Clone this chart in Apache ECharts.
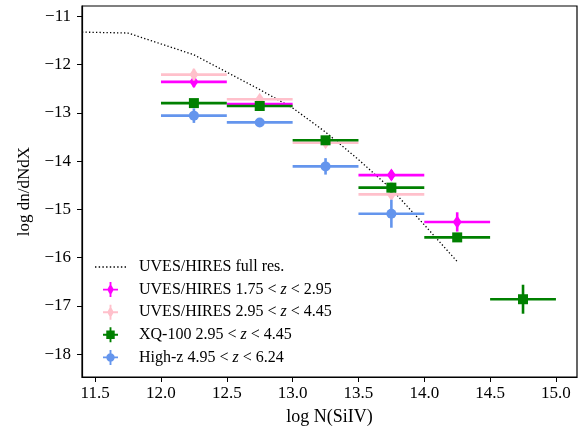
<!DOCTYPE html>
<html>
<head>
<meta charset="utf-8">
<script src="https://cdn.jsdelivr.net/npm/echarts@6/dist/echarts.min.js"></script>
<style>
  html, body { margin: 0; padding: 0; background: #fff; }
  #chart { width: 584px; height: 429px; }
</style>
</head>
<body>
<div id="chart"></div>
<script>
  // dotted curve: UVES/HIRES full resolution
  var fullResX = [11.4, 11.75, 12.25, 12.75, 13.0, 13.25, 13.5, 13.75, 14.0, 14.25];
  var fullResY = [-11.33, -11.35, -11.80, -12.52, -12.90, -13.40, -13.97, -14.58, -15.32, -16.08];

  // bin half width on log N axis
  var binHalf = 0.25;

  var uvesLowX = [12.25, 12.75, 13.75, 14.25];
  var uvesLowY = [-12.36, -12.82, -14.29, -15.26];
  var uvesLowErr = [0.11, 0.07, 0.10, 0.20];

  var uvesHighX = [12.25, 12.75, 13.25, 13.75];
  var uvesHighY = [-12.21, -12.72, -13.62, -14.69];
  var uvesHighErr = [0.12, 0.08, 0.08, 0.10];

  var xqX = [12.25, 12.75, 13.25, 13.75, 14.25, 14.75];
  var xqY = [-12.80, -12.86, -13.57, -14.55, -15.58, -16.86];
  var xqErr = [0.07, 0.07, 0.08, 0.10, 0.08, 0.30];

  var highzX = [12.25, 12.75, 13.25, 13.75];
  var highzY = [-13.06, -13.20, -14.11, -15.09];
  var highzErr = [0.15, 0.07, 0.17, 0.29];

  var xTicks = [11.5, 12.0, 12.5, 13.0, 13.5, 14.0, 14.5, 15.0];
  var yTicks = [-18, -17, -16, -15, -14, -13, -12, -11];

  var font = 'Liberation Serif';

  function pack(xs, ys, errs) {
    return xs.map(function (x, i) { return [x, ys[i], binHalf, errs[i]]; });
  }

  function errItem(shape, color) {
    return function (params, api) {
      var x = api.value(0), y = api.value(1), dx = api.value(2), dy = api.value(3);
      var c = api.coord([x, y]);
      var l = api.coord([x - dx, y]), r = api.coord([x + dx, y]);
      var t = api.coord([x, y + dy]), b = api.coord([x, y - dy]);
      var st = { stroke: color, lineWidth: 2.6 };
      var marker;
      if (shape === 'square') {
        marker = { type: 'rect', shape: { x: c[0] - 5, y: c[1] - 5, width: 10, height: 10 }, style: { fill: color } };
      } else if (shape === 'circle') {
        marker = { type: 'circle', shape: { cx: c[0], cy: c[1], r: 5 }, style: { fill: color } };
      } else {
        marker = { type: 'polygon', shape: { points: [[c[0], c[1] - 6.5], [c[0] + 4.5, c[1]], [c[0], c[1] + 6.5], [c[0] - 4.5, c[1]]] }, style: { fill: color } };
      }
      return {
        type: 'group',
        children: [
          { type: 'line', shape: { x1: l[0], y1: l[1], x2: r[0], y2: r[1] }, style: st },
          { type: 'line', shape: { x1: t[0], y1: t[1], x2: b[0], y2: b[1] }, style: st },
          marker
        ]
      };
    };
  }

  var bars = 'M0 7 H16 V9 H0 Z M7 0 H9 V16 H7 Z ';
  var iconDiamond = 'path://' + bars + 'M8 1.5 L11.5 8 L8 14.5 L4.5 8 Z';
  var iconSquare = 'path://' + bars + 'M3.5 3.5 H12.5 V12.5 H3.5 Z';
  var iconCircle = 'path://' + bars + 'M3.5 8 A4.5 4.5 0 1 1 12.5 8 A4.5 4.5 0 1 1 3.5 8 Z';

  // dotted line icon for the legend
  var dots = '';
  for (var k = 0; k < 9; k++) {
    dots += 'M' + (k * 3.7) + ' 0 h1.4 v1.4 h-1.4 Z ';
  }
  var iconDots = 'path://' + dots;

  var names = [
    'UVES/HIRES full res.',
    'UVES/HIRES 1.75 < z < 2.95',
    'UVES/HIRES 2.95 < z < 4.45',
    'XQ-100 2.95 < z < 4.45',
    'High-z 4.95 < z < 6.24'
  ];

  function customSeries(name, data, shape, color) {
    return {
      name: name,
      type: 'custom',
      data: data,
      encode: { x: 0, y: 1 },
      itemStyle: { color: color },
      renderItem: errItem(shape, color)
    };
  }

  var chart = echarts.init(document.getElementById('chart'));
  chart.setOption({
    animation: false,
    grid: {
      left: 82, right: 7, top: 6, bottom: 52,
      show: true, borderColor: '#000', borderWidth: 1.2,
      outerBoundsMode: 'none'
    },
    legend: {
      orient: 'vertical',
      left: 95,
      top: 259,
      padding: 0,
      itemWidth: 31,
      itemHeight: 15,
      itemGap: 6.6,
      textStyle: {
        fontFamily: font, fontSize: 16, color: '#000', lineHeight: 16,
        padding: [0, 0, 0, 8],
        rich: {
          i: { fontFamily: font, fontSize: 16, fontStyle: 'italic', color: '#000', lineHeight: 16 }
        }
      },
      formatter: function (name) { return name.replace(' z ', ' {i|z} '); },
      data: [
        { name: names[0], icon: iconDots, itemStyle: { color: '#000' } },
        { name: names[1], icon: iconDiamond },
        { name: names[2], icon: iconDiamond },
        { name: names[3], icon: iconSquare },
        { name: names[4], icon: iconCircle }
      ]
    },
    xAxis: {
      type: 'value',
      min: 11.4,
      max: 15.16,
      name: 'log N(SiIV)',
      nameLocation: 'middle',
      nameGap: 31,
      nameTextStyle: { fontFamily: font, fontSize: 18, color: '#000' },
      axisLine: { lineStyle: { color: '#000', width: 1.2 } },
      axisTick: { show: true, length: 5, lineStyle: { color: '#000' }, customValues: xTicks },
      axisLabel: {
        fontFamily: font, fontSize: 17, color: '#000', margin: 8,
        customValues: xTicks,
        formatter: function (v) { return v.toFixed(1); }
      },
      splitLine: { show: false }
    },
    yAxis: {
      type: 'value',
      min: -18.47,
      max: -10.79,
      name: 'log dn/dNdX',
      nameLocation: 'middle',
      nameGap: 47,
      nameTextStyle: { fontFamily: font, fontSize: 17, color: '#000' },
      axisLine: { show: true, lineStyle: { color: '#000', width: 1.2 } },
      axisTick: { show: true, length: 5, lineStyle: { color: '#000' }, customValues: yTicks },
      axisLabel: {
        fontFamily: font, fontSize: 17, color: '#000', margin: 11,
        customValues: yTicks,
        formatter: function (v) { return '\u2212' + Math.abs(v); }
      },
      splitLine: { show: false }
    },
    series: [
      {
        name: names[0],
        type: 'line',
        data: fullResX.map(function (x, i) { return [x, fullResY[i]]; }),
        symbol: 'none',
        lineStyle: { color: '#000', width: 1.3, type: [1.3, 2.2] },
        itemStyle: { color: '#000' },
        z: 1
      },
      customSeries(names[1], pack(uvesLowX, uvesLowY, uvesLowErr), 'diamond', '#ff00ff'),
      customSeries(names[2], pack(uvesHighX, uvesHighY, uvesHighErr), 'diamond', '#ffc0cb'),
      customSeries(names[3], pack(xqX, xqY, xqErr), 'square', '#008000'),
      customSeries(names[4], pack(highzX, highzY, highzErr), 'circle', '#6495ed')
    ]
  });
</script>
</body>
</html>
